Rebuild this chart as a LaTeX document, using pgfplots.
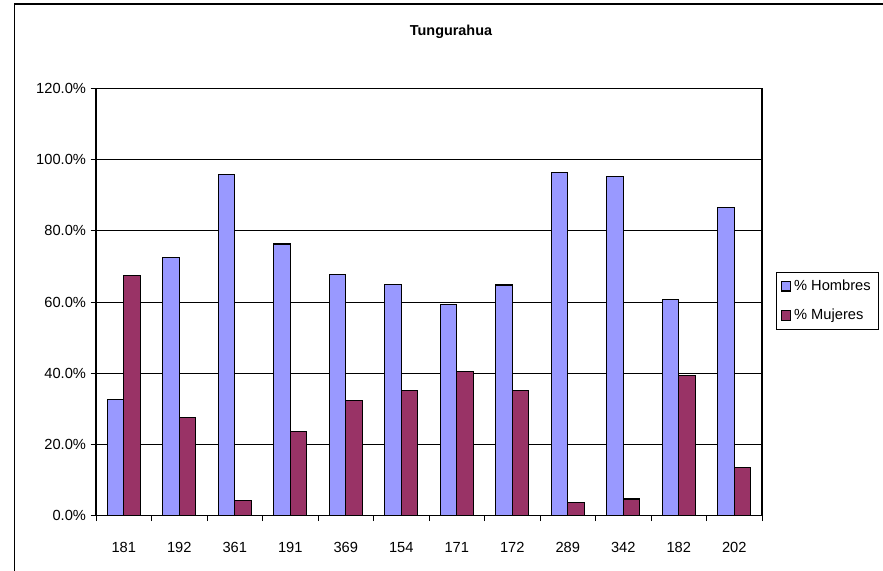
\documentclass[border=0pt]{standalone}
\usepackage{pgfplots}
\pgfplotsset{compat=1.18}
\usepackage{fontspec}
\setmainfont{Liberation Sans}
\definecolor{hcol}{HTML}{9999FF}
\definecolor{mcol}{HTML}{993366}
\begin{document}
\begin{tikzpicture}
\useasboundingbox (0pt,0pt) rectangle (662.25pt,428.25pt);
\draw[black, line width=0.9pt] (11pt,-20pt) -- (11pt,425.25pt) -- (700pt,425.25pt);
\node[font=\fontsize{10.8}{13}\selectfont\bfseries] at (338.25pt,404.5pt) {Tungurahua};
\begin{axis}[
  at={(72pt,41.475pt)}, anchor=south west,
  scale only axis,
  width=499.5pt, height=320.5pt,
  ybar=0pt, bar width=12.4pt,
  xmin=-0.5, xmax=11.5,
  ymin=0, ymax=120,
  xtick={0,...,11},
  xticklabels={181,192,361,191,369,154,171,172,289,342,182,202},
  minor xtick={-0.5,0.5,...,11.5},
  major x tick style={draw=none},
  minor tick length=4pt,
  x tick label style={yshift=-12.5pt},
  ytick={0,20,...,120},
  yticklabels={0.0\%,20.0\%,40.0\%,60.0\%,80.0\%,100.0\%,120.0\%},
  tick align=outside,
  major tick length=4pt,
  xtick pos=bottom, ytick pos=left,
  ymajorgrids,
  grid style={black, line width=0.6pt},
  axis line style={black, line width=0.8pt},
  tick style={black, line width=0.6pt},
  tick label style={font=\fontsize{11}{13}\selectfont},
  /pgf/number format/assume math mode=true,
  legend style={at={(rel axis cs:1.0205,0.57)}, anchor=north west,
    draw=black, line width=0.7pt, font=\fontsize{11}{13}\selectfont,
    row sep=8.5pt, inner sep=3.5pt},
  legend cell align=left,
  legend image code/.code={\draw[#1, line width=0.8pt] (0pt,-3.6pt) rectangle (7.2pt,3.6pt);},
]
\addplot[fill=hcol, draw=black, line width=0.9pt] coordinates {
(0,32.6) (1,72.4) (2,95.7) (3,76.3) (4,67.7) (5,64.9) (6,59.4) (7,64.8) (8,96.4) (9,95.3) (10,60.6) (11,86.5)};
\addplot[fill=mcol, draw=black, line width=0.9pt] coordinates {
(0,67.4) (1,27.6) (2,4.3) (3,23.7) (4,32.3) (5,35.1) (6,40.6) (7,35.2) (8,3.6) (9,4.7) (10,39.4) (11,13.5)};
\legend{\% Hombres\hspace{8pt}, \% Mujeres}
\end{axis}
\end{tikzpicture}
\end{document}
